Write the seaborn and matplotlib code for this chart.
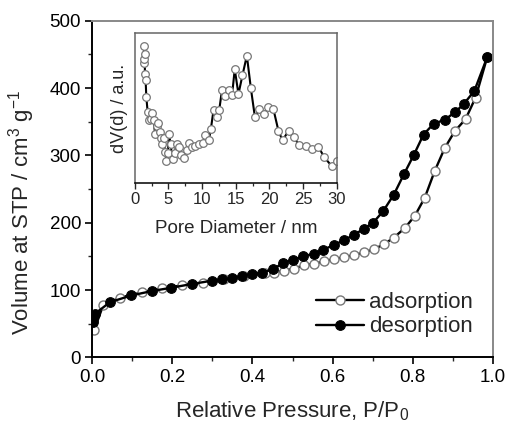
import matplotlib
matplotlib.use("Agg")
import matplotlib.pyplot as plt
import seaborn as sns
import pandas as pd
from matplotlib.ticker import MultipleLocator

# ---- data ----
ads_p = [0.005, 0.0275, 0.07, 0.1235, 0.1735, 0.2235, 0.2775, 0.33, 0.38, 0.43,
         0.4525, 0.479, 0.503, 0.529, 0.554, 0.579, 0.604, 0.629, 0.654, 0.679,
         0.704, 0.728, 0.753, 0.780, 0.805, 0.830, 0.855, 0.880, 0.905, 0.932,
         0.957, 0.986]
ads_v = [41, 78, 89, 96.6, 102.5, 107, 111, 116, 121, 125,
         126, 129, 132, 137, 139, 143, 146, 149, 152, 156,
         161, 168, 178, 192, 210, 237, 277, 311, 336, 354,
         386, 446]

des_p = [0.0025, 0.007, 0.044, 0.097, 0.148, 0.197, 0.248, 0.299, 0.324, 0.349,
         0.374, 0.400, 0.425, 0.451, 0.476, 0.500, 0.526, 0.553, 0.577, 0.603,
         0.628, 0.653, 0.678, 0.701, 0.726, 0.753, 0.778, 0.803, 0.827, 0.852,
         0.880, 0.905, 0.927, 0.954, 0.986]
des_v = [53, 65, 82, 92, 98.5, 103.5, 109, 114, 116, 118,
         121, 124, 126, 131, 140, 145, 150, 154, 160, 167,
         174, 182, 191, 200, 217, 242, 272, 301, 331, 347,
         353, 364, 376, 396, 446]

pore_d = [1.3, 1.35, 1.4, 1.45, 1.5, 1.6, 1.7, 1.9, 2.1, 2.4,
          2.6, 2.8, 3.0, 3.3, 3.5, 3.7, 3.9, 4.1, 4.3, 4.5,
          4.7, 4.9, 5.1, 5.3, 5.6, 5.9, 6.2, 6.5, 6.9, 7.3,
          7.7, 8.1, 8.5, 9.0, 9.6, 10.2, 10.5, 11.0, 11.3, 11.7,
          12.15, 12.55, 12.95, 13.45, 13.95, 14.45, 14.85, 15.4, 16.0, 16.65,
          17.25, 17.85, 18.5, 19.15, 19.85, 20.6, 21.35, 21.95, 22.85, 23.6,
          24.45, 25.45, 26.35, 27.3, 28.15, 29.3, 30.0]
pore_dv = [0.80, 0.83, 0.915, 0.86, 0.73, 0.687, 0.576, 0.475, 0.42, 0.43,
           0.47, 0.42, 0.33, 0.38, 0.40, 0.34, 0.30, 0.26, 0.30, 0.21,
           0.15, 0.20, 0.326, 0.26, 0.16, 0.20, 0.26, 0.24, 0.19, 0.17,
           0.22, 0.27, 0.24, 0.25, 0.26, 0.27, 0.32, 0.29, 0.36, 0.49,
           0.44, 0.49, 0.62, 0.583, 0.62, 0.587, 0.76, 0.594, 0.72, 0.85,
           0.632, 0.44, 0.493, 0.46, 0.51, 0.493, 0.348, 0.286, 0.348, 0.308,
           0.252, 0.246, 0.23, 0.241, 0.174, 0.112, 0.15]

sns.set_style("ticks")
plt.rcParams['font.family'] = ['Liberation Sans', 'DejaVu Sans']
plt.rcParams['mathtext.fontset'] = 'custom'
plt.rcParams['mathtext.rm'] = 'Liberation Sans'

fig = plt.figure(figsize=(5.07, 4.25), dpi=100)
ax = fig.add_axes([0.182, 0.159, 0.790, 0.792])

df_a = pd.DataFrame({"p": ads_p, "v": ads_v})
df_d = pd.DataFrame({"p": des_p, "v": des_v})

sns.lineplot(data=df_a, x="p", y="v", ax=ax, sort=False, color="black", lw=1.7,
             marker="o", markersize=6.5, markerfacecolor="white",
             markeredgecolor="#777777", markeredgewidth=1.0, label="adsorption")
sns.lineplot(data=df_d, x="p", y="v", ax=ax, sort=False, color="black", lw=1.7,
             marker="o", markersize=7, markerfacecolor="black",
             markeredgecolor="black", label="desorption")

ax.set_xlim(0, 1.0)
ax.set_ylim(0, 500)
ax.xaxis.set_major_locator(MultipleLocator(0.2))
ax.xaxis.set_minor_locator(MultipleLocator(0.1))
ax.yaxis.set_major_locator(MultipleLocator(100))
ax.yaxis.set_minor_locator(MultipleLocator(50))
ax.set_xticks([0, 0.2, 0.4, 0.6, 0.8, 1.0])
ax.set_xticklabels(["0.0", "0.2", "0.4", "0.6", "0.8", "1.0"])
ax.tick_params(which="major", direction="out", length=5, width=1.2, labelsize=13.5,
               colors="black", pad=3)
ax.tick_params(which="minor", direction="out", length=3, width=1.0)
for s in ["left", "bottom"]:
    ax.spines[s].set_color("black")
    ax.spines[s].set_linewidth(1.4)
for s in ["top", "right"]:
    ax.spines[s].set_visible(True)
    ax.spines[s].set_color("#888888")
    ax.spines[s].set_linewidth(1.4)
ax.set_xlabel("Relative Pressure, P/P$_0$", fontsize=16, labelpad=10)
ax.set_ylabel("Volume at STP / cm$^3$ g$^{-1}$", fontsize=16)
ax.yaxis.set_label_coords(-0.138, 0.43)

leg = ax.legend(loc="lower right", frameon=False, fontsize=16, handlelength=2.2,
                handletextpad=0.2, borderaxespad=0.5, labelspacing=0.15)

# ---- inset ----
axi = fig.add_axes([0.266, 0.569, 0.398, 0.353])
df_i = pd.DataFrame({"d": pore_d, "dv": pore_dv})
sns.lineplot(data=df_i, x="d", y="dv", ax=axi, sort=False, color="black", lw=1.5,
             marker="o", markersize=5.5, markerfacecolor="white",
             markeredgecolor="#777777", markeredgewidth=0.9)
axi.set_xlim(0, 30)
axi.set_ylim(0, 1.0)
axi.xaxis.set_major_locator(MultipleLocator(5))
axi.xaxis.set_minor_locator(MultipleLocator(2.5))
axi.set_yticks([])
axi.tick_params(which="major", direction="out", length=4, width=1.0, labelsize=12, pad=2)
axi.tick_params(which="minor", direction="out", length=2.5, width=0.9)
for s in axi.spines.values():
    s.set_visible(True)
    s.set_color("#666666")
    s.set_linewidth(1.1)
axi.spines["bottom"].set_color("black")
axi.set_xlabel("Pore Diameter / nm", fontsize=13.5, labelpad=10)
axi.set_ylabel("dV(d) / a.u.", fontsize=13, labelpad=5)

fig.savefig("out.png", dpi=100)
